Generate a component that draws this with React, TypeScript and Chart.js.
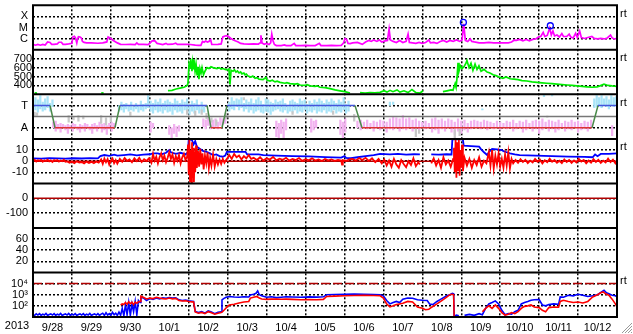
import { useEffect, useRef } from 'react';
import { Chart, registerables } from 'chart.js';

Chart.register(...registerables);

// ---------- labels ----------
const yearLabel = '2013';
const dayLabels = ['9/28', '9/29', '9/30', '10/1', '10/2', '10/3', '10/4', '10/5', '10/6', '10/7', '10/8', '10/9', '10/10', '10/11', '10/12'];
const xrayTickLabels: [number, string][] = [[1e-4, 'X'], [1e-5, 'M'], [1e-6, 'C']];
const speedTicks = [400, 500, 600, 700];
const sectorTickLabels: [number, string][] = [[1, 'T'], [-1, 'A']];
const bTicks = [-10, 0, 10];
const dstTicks = [-100, 0];
const kpTicks = [20, 40, 60];
const protonTickLabels: [number, string][] = [[1e2, '10²'], [1e3, '10³'], [1e4, '10⁴']];
const rtLabel = 'rt';

// ---------- data (x = hours since 9/28 00:00) ----------
const xrayFlux: [number, number][] = [
  [0, 3.1e-7], [1.5, 2.6e-7], [3, 3.1e-7], [4.5, 2.6e-7], [6, 3.1e-7], [7.5, 2.7e-7], [9, 5.1e-7], [10.5, 4.6e-7], [11.5, 3.1e-7], [13, 3.1e-7],
  [15, 3.4e-7], [16, 4.8e-7], [17.5, 4.8e-7], [18.5, 3.1e-7], [20, 3.1e-7], [22, 3.4e-7], [24, 3.8e-7], [24.5, 1.43e-6], [25.5, 1.65e-6], [26.2, 1.17e-6],
  [27, 4.2e-7], [27.5, 9.5e-7], [28, 1.52e-6], [29, 1.43e-6], [29.8, 1.17e-6], [30.5, 5.7e-7], [31.5, 4.6e-7], [33, 4.2e-7], [36, 4.2e-7], [40, 3.9e-7],
  [43, 4.2e-7], [45.5, 5.1e-7], [46.3, 1.43e-6], [47.5, 1.17e-6], [49, 7.7e-7], [50.5, 5.7e-7], [52, 4.2e-7], [54, 3.1e-7], [57, 3.0e-7], [60, 3.1e-7],
  [63, 3.0e-7], [64, 4.2e-7], [65, 3.1e-7], [68, 3.1e-7], [71, 3.0e-7], [73.5, 6.3e-7], [75, 6.7e-7], [76.5, 3.8e-7], [78, 3.4e-7], [80, 3.0e-7],
  [82, 3.8e-7], [83, 3.1e-7], [86, 3.2e-7], [88, 3.9e-7], [89, 3.1e-7], [92, 3.1e-7], [95, 3.1e-7], [97, 3.0e-7], [100, 2.6e-7], [102, 2.5e-7],
  [103.5, 2.5e-7], [104.5, 5.7e-7], [105.5, 4.8e-7], [106.5, 6.3e-7], [107.5, 5.1e-7], [108.5, 5.7e-7], [109.5, 8.2e-7], [110.2, 3.0e-7], [112, 3.0e-7], [114, 3.1e-7],
  [116, 3.4e-7], [117, 1.43e-6], [118.3, 1.75e-6], [119.5, 1.87e-6], [120.5, 1.58e-6], [122, 1.05e-6], [123.5, 7.7e-7], [125, 6.3e-7], [126.5, 5.1e-7], [128, 3.8e-7],
  [130, 3.4e-7], [133, 3.2e-7], [136, 3.4e-7], [139, 3.3e-7], [140, 4.2e-7], [140.5, 2.0e-6], [141.2, 4.2e-7], [142.5, 3.2e-7], [144, 3.8e-7], [145.5, 3.0e-7],
  [146.5, 4.2e-7], [147.2, 2.6e-6], [148, 6.3e-7], [148.8, 3.0e-7], [150, 2.4e-7], [153, 2.4e-7], [155, 2.8e-7], [156, 2.4e-7], [159, 2.4e-7], [161, 3.8e-7],
  [162, 2.4e-7], [165, 2.4e-7], [168, 2.5e-7], [171, 2.4e-7], [174, 2.4e-7], [176.5, 3.8e-7], [177.5, 2.4e-7], [181, 2.4e-7], [184, 2.5e-7], [187, 2.4e-7],
  [190, 2.5e-7], [191.5, 4.2e-7], [192.3, 1.0e-6], [193.3, 8.6e-7], [194.2, 3.8e-7], [195.5, 3.6e-7], [197, 4.2e-7], [200, 4.6e-7], [203, 3.1e-7], [205, 5.1e-7],
  [207, 7.0e-7], [208.5, 5.7e-7], [210, 7.7e-7], [212, 5.7e-7], [213.5, 7.7e-7], [215, 5.1e-7], [217, 6.3e-7], [218.5, 7.0e-7], [219.5, 7.4e-6], [220.3, 7.7e-7],
  [222, 5.7e-7], [224, 4.6e-7], [226, 7.0e-7], [228, 4.6e-7], [230, 5.7e-7], [231.2, 2.6e-6], [232, 4.6e-7], [234, 4.2e-7], [236, 3.8e-7], [238, 4.6e-7],
  [240, 3.8e-7], [242, 4.6e-7], [244, 7.7e-7], [245, 4.2e-7], [247, 4.6e-7], [249, 3.8e-7], [251, 5.7e-7], [253, 7.0e-7], [255, 5.1e-7], [257, 7.0e-7],
  [259, 5.7e-7], [261, 7.7e-7], [263, 5.7e-7], [264.5, 7.7e-7], [265.5, 2.18e-5], [266.5, 7.0e-7], [268, 5.7e-7], [269.5, 9.5e-7], [270.5, 5.7e-7], [272, 5.1e-7],
  [275, 4.2e-7], [278, 4.2e-7], [281, 4.6e-7], [284, 4.2e-7], [287, 4.2e-7], [290, 4.2e-7], [293, 4.2e-7], [295, 5.1e-7], [296.5, 7.3e-7], [298, 7.0e-7],
  [300, 8.6e-7], [302, 6.3e-7], [304, 8.6e-7], [306, 6.3e-7], [308, 8.6e-7], [310, 9.5e-7], [311.5, 1.43e-6], [313, 1.58e-6], [314.5, 3.7e-6], [315.5, 1.58e-6],
  [317, 1.95e-6], [318.5, 9.0e-6], [319.5, 2.15e-6], [320.5, 4.9e-6], [321.5, 1.75e-6], [323, 2.15e-6], [324.5, 1.43e-6], [326, 2.9e-6], [327, 1.58e-6], [329, 1.58e-6],
  [330.5, 2.6e-6], [331.5, 1.43e-6], [333, 1.17e-6], [334.5, 3.05e-6], [335.5, 1.29e-6], [337, 4.9e-6], [338, 1.29e-6], [340, 1.05e-6], [342, 1.29e-6], [344.5, 1.58e-6],
  [346, 1.05e-6], [348, 9.5e-7], [350, 1.05e-6], [352, 9.5e-7], [354, 1.17e-6], [356, 2.15e-6], [357, 1.17e-6], [358.5, 9.5e-7], [360, 1.05e-6],
];
const flareMarks: [number, number][] = [[265.3, 2.9e-5], [318.9, 1.45e-5]];

const windSpeed: [number, number | null][] = [
  [1, 316], [2.5, 314], [3, null], [42, 315], [43.5, 316], [44, null],
  [83.2, 341], [85.7, 345], [88.2, 360], [90.6, 370], [93.1, 380], [94.9, 397], [95.5, 420], [96.2, 640], [96.8, 600], [97.2, 700],
  [97.6, 620], [98, 560], [98.4, 660], [98.9, 590], [99.2, 690], [99.9, 560], [100.5, 640], [101.1, 520], [101.7, 610], [102.3, 470],
  [102.9, 590], [103.6, 540], [104.2, 600], [105.1, 520], [106, 560], [107.3, 600], [108.5, 590], [109.7, 610], [111, 600], [112.2, 595],
  [113.4, 590], [114.7, 600], [115.9, 585], [117.1, 590], [118.4, 580], [119.6, 575], [120.8, 585], [121.4, 410], [122.1, 570], [123.3, 560],
  [124.2, 575], [125.1, 550], [126, 562], [127, 540], [128, 552], [128.8, 530], [130, 540], [130.7, 520], [131.5, 528], [132.5, 505], [134.4, 495],
  [135.5, 505], [136.9, 480], [138, 488], [139.3, 470], [141.8, 465], [143.6, 490], [144.2, 460], [146.1, 450], [147.5, 458], [149.2, 440],
  [150.5, 448], [152.3, 435], [155.3, 425], [156.5, 432], [158.4, 420], [161.5, 415], [163, 420], [164.6, 405], [167.7, 400], [169, 408],
  [170.8, 395], [173.8, 390], [175, 396], [176.9, 380], [180, 375], [183.1, 365], [186.2, 350], [189.3, 340], [192.3, 330], [195.4, 315], [196, null],
  [201.6, 320], [204.7, 315], [207.7, 320], [210.8, 318], [213.9, 322], [216.4, 340], [218.2, 325], [220.1, 345], [221.9, 330], [224.4, 350],
  [226.2, 325], [228.7, 340], [231.2, 320], [233.6, 355], [236.1, 320], [238.6, 315], [240.4, 340], [241, null],
  [252.7, 330], [255.2, 340], [257.7, 350], [258.9, 345], [260.2, 420], [260.8, 380], [261.4, 490], [262, 655], [262.6, 560], [263.5, 620],
  [264.5, 590], [265.7, 610], [266.9, 650], [267.5, 680], [268.8, 600], [270, 650], [271.2, 570], [272.5, 640], [273.7, 580], [274.9, 620],
  [276.2, 560], [278, 580], [279.9, 550], [281.7, 540], [283.6, 520], [285.4, 510], [287.3, 495], [289.7, 480], [291.6, 495], [294, 475],
  [296.5, 470], [299, 465], [301.4, 455], [304.5, 450], [307.6, 440], [310.7, 435], [313.8, 430], [316.8, 425], [319.9, 420], [323, 415],
  [326.1, 410], [329.2, 405], [332.3, 400], [335.3, 395], [338.4, 390], [341.5, 385], [344.6, 380], [347.7, 385], [349.5, 395], [352, 415],
  [354.5, 400], [356.9, 395], [360, 390],
];

// IMF sector: +1 = T (toward), -1 = A (away)
const sectorLevel: [number, number][] = [
  [0, 1], [10.5, 1], [13.6, -1], [50.5, -1], [53.6, 1], [107.3, 1], [109.7, -1], [116.5, -1], [119.6, 1],
  [198.5, 1], [202.8, -1], [344.6, -1], [348.3, 1], [360, 1],
];
const sectorMid: [number, number][] = [[0, 0], [360, 0]];

// IMF direction spread per time bin [hour, low, high]
const imfToward: [number, number, number][] = [
  [0, 0.5, 1.4], [1.5, 0.6, 1.7], [3, 0.4, 1.5], [4.5, 0.7, 1.9], [6, 0.5, 1.3], [7.5, 0.6, 1.6], [9, 0.8, 1.8], [10.5, 0.5, 1.2], [12, 0.9, 1.5],
  [53, 0.5, 1.0], [54.5, 0.6, 1.3], [56, 0.4, 1.1], [57.5, 0.7, 1.2], [59, 0.5, 1.0], [60.5, 0.6, 1.3], [62, 0.5, 0.9], [63.5, 0.7, 1.2], [65, 0.4, 1.0],
  [66.5, 0.6, 1.4], [68, 0.5, 1.1], [69.5, 0.7, 1.2], [71, 0.8, 1.9], [72.5, 0.5, 1.4], [74, 0.3, 1.2], [75.5, 0.6, 1.5], [77, 0.4, 1.3], [78.5, 0.5, 1.6],
  [80, 0.3, 1.2], [81.5, 0.6, 1.4], [83, 0.4, 1.5], [84.5, 0.5, 1.3], [86, 0.2, 1.2], [87.5, 0.6, 1.6], [89, 0.4, 1.4], [90.5, 0.5, 1.2], [92, 0.3, 1.5],
  [93.5, 0.6, 1.3], [95, 0.4, 1.6], [96.5, 0.2, 1.1], [98, 0.5, 1.4], [99.5, 0.3, 1.2], [101, 0.6, 1.5], [102.5, 0.3, 1.0], [104, 0.5, 1.3], [105.5, 0.4, 0.9],
  [121, 0.5, 1.3], [122.5, 0.7, 1.7], [124, 0.6, 1.4], [125.5, 0.9, 1.6], [127, 0.6, 1.5], [128.5, 0.8, 1.7], [130, 0.5, 1.2], [131.5, 0.7, 1.5], [133, 0.4, 1.3],
  [134.5, 0.6, 1.6], [136, 0.3, 1.2], [137.5, 0.5, 1.5], [139, 0.6, 1.7], [140.5, 0.4, 1.4], [142, 0.3, 1.1], [143.5, 0.5, 1.6], [145, 0.4, 1.5], [146.5, 0.2, 1.3],
  [148, 0.5, 1.2], [149.5, 0.6, 1.5], [151, 0.7, 1.3], [152.5, 0.5, 1.4], [154, 0.4, 1.6], [155.5, 0.6, 1.2], [157, 0.3, 1.0], [158.5, 0.5, 1.4], [160, 0.4, 1.5],
  [161.5, 0.6, 1.3], [163, 0.3, 1.2], [164.5, 0.5, 1.6], [166, 0.4, 1.4], [167.5, 0.6, 1.5], [169, 0.3, 1.1], [170.5, 0.5, 1.4], [172, 0.4, 1.2], [173.5, 0.6, 1.5],
  [175, 0.3, 1.3], [176.5, 0.5, 1.6], [178, 0.4, 1.4], [179.5, 0.6, 1.2], [181, 0.3, 1.5], [182.5, 0.5, 1.3], [184, 0.4, 1.6], [185.5, 0.6, 1.4], [187, 0.3, 1.2],
  [188.5, 0.5, 1.5], [190, 0.4, 1.3], [191.5, 0.6, 1.7], [193, 0.3, 1.1], [194.5, 0.5, 1.4],
  [220, 1.0, 1.3], [222, 1.1, 1.3], [277, 0.6, 0.7], [315, 1.8, 2.0], [320, 1.85, 2.0],
  [346, 0.8, 1.6], [347.5, 0.9, 1.9], [349, 1.0, 1.7], [350.5, 0.8, 1.9], [352, 1.0, 1.6], [353.5, 0.9, 1.8], [355, 0.7, 1.5], [356.5, 1.0, 1.9], [358, 0.9, 1.7], [359.5, 1.1, 1.8],
];
const imfAway: [number, number, number][] = [
  [12.5, -1.0, -0.5], [14, -1.3, -0.4], [15.5, -1.1, -0.7], [17, -1.4, -0.6], [18.5, -1.0, -0.7], [20, -1.2, -0.8], [21.5, -1.5, -0.7], [23, -1.1, -0.8],
  [24.5, -1.3, -0.6], [26, -1.0, -0.7], [27.5, -1.2, -0.9], [29, -1.4, -0.7], [30.5, -1.1, -0.8], [32, -1.3, -0.6], [33.5, -1.0, -0.7], [35, -1.2, -0.9],
  [36.5, -1.5, -0.7], [38, -1.1, -0.6], [39.5, -1.3, -0.8], [41, -1.0, -0.5], [42.5, -1.4, -0.7], [44, -1.2, -0.6], [45.5, -1.6, -0.8], [47, -1.1, -0.6],
  [48.5, -1.3, -0.5], [50, -1.0, -0.6],
  [72.5, -1.4, -0.5], [74, -1.0, -0.6], [84, -1.6, -0.8], [85.5, -2.0, -1.0], [87, -1.5, -0.7], [88.5, -1.8, -0.9], [90, -1.3, -0.8],
  [105, -0.9, -0.2], [106.5, -1.1, -0.3], [108, -0.8, 0], [109.5, -1.1, -0.4], [111, -1.0, -0.3], [112.5, -0.9, -0.2], [114, -1.1, -0.5], [115.5, -0.8, -0.1],
  [117, -0.7, -0.2], [118.5, -0.6, 0],
  [150, -1.8, -0.4], [151.5, -2, -0.6], [153, -1.5, -0.3], [154.5, -1.9, -0.5], [156, -1.2, -0.2],
  [171.5, -1.4, -0.2], [173, -1.2, -0.4], [174.5, -1.0, -0.3], [189.5, -1.6, -0.3], [191, -2, -0.5], [192.5, -1.4, -0.2],
  [200, -1.0, -0.4], [202, -1.2, -0.3], [204, -0.9, -0.5], [206, -1.1, -0.3], [208, -1.0, -0.6], [210, -1.3, -0.4], [212, -0.9, -0.5], [214, -1.2, -0.3],
  [216, -1.0, -0.4], [218, -1.4, -0.5], [220, -1.1, -0.2], [222, -1.2, 0], [224, -1.0, -0.1], [226, -1.3, -0.2], [228, -1.1, 0.1], [230, -1.2, -0.2],
  [232, -1.0, -0.1], [234, -1.3, -0.3], [236, -1.1, -0.2], [238, -1.2, -0.4], [240, -0.9, -0.5], [242, -1.1, -0.4], [244, -1.0, -0.6], [246, -1.4, -0.2],
  [248, -1.2, -0.1], [250, -1.5, -0.3], [252, -1.1, -0.2], [254, -1.3, -0.4], [256, -1.0, -0.2], [258, -1.4, -0.3], [260, -1.6, -0.5], [262, -1.3, -0.2],
  [264, -1.5, -0.4], [266, -1.2, -0.3], [268, -1.4, -0.6], [270, -1.1, -0.4], [272, -1.0, -0.3], [274, -0.9, -0.4], [276, -1.1, -0.5], [278, -1.0, -0.3],
  [280, -1.2, -0.4], [282, -0.9, -0.5], [284, -1.1, -0.6], [286, -1.0, -0.4], [288, -1.2, -0.5], [290, -0.9, -0.6], [292, -1.1, -0.4], [294, -1.0, -0.5],
  [296, -1.3, -0.3], [298, -1.1, -0.6], [300, -1.0, -0.4], [302, -1.4, -0.5], [304, -1.2, -0.3], [306, -1.0, -0.6], [308, -1.3, -0.4], [310, -1.1, -0.3],
  [312, -1.5, -0.4], [314, -1.2, -0.2], [316, -1.0, -0.5], [318, -1.3, -0.3], [320, -1.1, -0.4], [322, -1.4, -0.5], [324, -1.2, -0.3], [326, -1.0, -0.6],
  [328, -1.3, -0.4], [330, -1.1, -0.5], [332, -1.2, -0.3], [334, -1.0, -0.5], [336, -1.4, -0.4], [338, -1.2, -0.6], [340, -1.1, -0.4], [342, -1.3, -0.5],
  [344, -1.0, -0.3], [357, -1.7, -0.8],
];
const imfMixed: [number, number, number][] = [
  [1, 0.0, 0.4], [2.5, 0.1, 0.35], [22, -0.5, 0.1], [25, -0.3, 0.0], [28, -0.4, 0.1], [31, -0.2, 0.05], [42, -0.6, 0.1], [45, -0.75, -0.1], [48, -0.5, 0.1],
  [60, 0.1, 0.4], [95, 0.2, 0.6], [100, 0.1, 0.5], [104, 0.2, 0.6], [107, -0.2, 0.3], [110, -0.5, -0.1], [113, -0.8, -0.3], [119, -0.2, 0.3], [130, 1.5, 1.7],
  [160, 0.2, 0.45], [185, 0.2, 0.5], [198, -0.4, 0.2], [236, -1.8, -1.1], [238, -1.5, -1.2], [260, -2.0, -1.2], [263, -1.7, -1.1], [317, -0.05, 0.05],
];

const bzValues: [number, number | null][] = [
  [0, 0.5], [1, 1.2], [2, -0.3], [3, 0.8], [4, 0.2], [5, 1.1], [6, -0.5], [7, 0.7], [8, 0.1], [9, 1.3], [10, -0.2], [11, 0.6], [12, -0.8], [13, 0.9], [14, 0.3],
  [15, 1.0], [16, -0.4], [17, 0.5], [18, 0.0], [19, 1.2], [20, -0.6],
  [21, -0.3], [22.5, -1.5], [24, -0.5], [25.5, -1.8], [27, -0.2], [28.5, -1.2], [30, -0.8], [31.5, -2.0], [33, -0.4], [34.5, -1.6], [36, -0.6], [37.5, -1.9],
  [39, -0.3], [40.5, -1.4],
  [42, 1.5], [43, -2.5], [44, 2.3], [45, -1.0], [46, 1.8], [47, -3.0], [48, 0.5], [49, 2.5], [50, -1.8], [51, 1.0], [52, -2.2],
  [53.5, 2.0], [55, -0.5], [56.5, 2.8], [58, 0.3], [59.5, 1.5], [61, -1.0], [62.5, 2.5], [64, 0.0], [65.5, 3.0], [67, -0.8], [68.5, 1.8], [70, 0.2], [71.5, 2.6],
  [73, -1.5], [74, 6.5], [75, 0.5], [76, 4.0], [77, -2.0], [78, 3.5], [79, 7.0], [80, 1.0], [81, 5.0], [82, -1.0], [83, 3.0], [84, 8.0], [85, 2.0], [86, 6.0],
  [87, -1.5], [88, 4.5], [89, 0.5], [90, 5.5], [91, -2.0], [92, 3.5], [93, 6.5], [94, 1.0], [95, 4.0],
  [95.6, 15], [96, -12], [96.4, 19], [96.8, -18], [97.2, 10], [97.6, -20], [98, 17], [98.4, -15], [98.8, 12], [99.2, -19], [99.6, 8], [100, -10], [100.5, 14], [101, -6],
  [101.7, 9], [102.4, -5], [103.1, 11], [103.8, -3], [104.5, 7], [105.2, -7.5], [106, 5], [106.8, -2], [107.6, 8], [108.4, -6], [109.2, 3], [110, -4], [111, 6],
  [112, -5], [113, 2], [114, -3], [115, 1.5], [116, -2.5], [117, 2], [118, -1.5], [119, 1],
  [120, 3], [121, 5.5], [122.5, 2], [124, 6.5], [125.5, 3.5], [127, 5], [128.5, 1.5], [130, 4.5], [131.5, 2.5], [133, 5.5], [134.5, 2],
  [136, 3], [138, 1], [140, 3.5], [142, 0.5], [144, 2.5], [146, 1.5], [148, 3.8], [150, 0.8], [152, 2.2], [154, 1.2], [156, 3], [158, 0.5], [160, 2], [162, 1],
  [164, 2.8], [166, 0.3], [168, 1.8], [170, 0.8], [172, 2.5], [174, 0.5], [176, 1.5], [178, 0.2], [180, 2], [182, 0.8], [184, 1.5], [186, 0.3], [188, 1.2],
  [190, 0.5], [190.5, -3], [191, 1], [193, 0.3], [195, 1.5],
  [197, 2], [199, 0.5], [201, 2.8], [203, 1], [205, 3], [207, 0.2], [209, 2.5], [211, -1], [213, 2],
  [215, -2], [216.5, 1.5], [218, -4], [219.5, 0.5], [221, -5], [222.5, 2], [224, -3], [225.5, -6], [227, 1], [228.5, -2.5], [230, -5.5], [231.5, 0], [233, -3.5],
  [234.5, 2.5], [236, -4.5], [237.5, -1], [238.5, -3], [239.5, null],
  [245.5, -2], [247, 2.5], [248.5, -4], [250, 1], [251.5, -6], [253, 3.5], [254.5, -3], [256, 0.5], [257.5, -5], [259, 2],
  [259.5, 12], [260, -10], [260.5, 19], [261, -15], [261.5, 17], [262, -8], [262.5, 19], [263, -13], [263.5, 10], [264, -6], [264.5, 15], [265, -9],
  [266, 3], [267.5, -4], [269, 2], [270.5, -6], [272, 1], [273.5, -3.5], [275, 3.5], [276.5, -5], [278, 0.5], [279.5, -2],
  [281, 8], [282, -4], [283, 10], [284, -6.5], [285, 5], [286, -3], [287, 7], [288, -5], [289, 2], [290, -6], [291, 6], [292, -4], [293, 8], [294, -6.5], [295, 2], [296, -2],
  [297.5, 1], [299, -1.5], [300.5, 1.8], [302, -0.8], [303.5, 1.2], [305, -1.8], [306.5, 0.5], [308, -1.2], [309.5, 2], [311, -0.5], [312.5, 1.3], [314, -2],
  [315.5, 0.8], [317, -1], [318.5, 2.2], [320, -0.6], [321.5, 1], [323, -1.5], [324.5, 0.3], [326, -1.8], [327.5, 1.5], [329, -0.8], [330.5, 1.1], [332, -1.6],
  [333.5, 0.6], [335, -1.2], [336.5, 2], [338, -0.4], [339.5, 1], [341, -2], [342.5, 0.5], [344, -1.3], [345.5, 1.8], [347, -0.7], [348.5, 1.2], [350, -1.6],
  [351.5, 0.4], [353, -1.1], [354.5, 2.3], [356, -0.9], [357.5, 1.3], [359, -1.9], [360, 0.5],
];
const btValues: [number, number | null][] = [
  [0, 2.5], [5, 2.3], [10, 2.8], [15, 2.5], [20, 2.2], [25, 2.6], [30, 2.4], [35, 2.8], [40, 2.5], [41.5, 4.5], [44, 5.5], [47, 4.8], [50, 5.8], [52, 5],
  [56, 5.5], [60, 6], [64, 5.2], [68, 5.8], [72, 6.2], [74, 7], [77, 7], [79, 6], [82, 7.5], [84, 10], [85, 8], [88, 6.5], [91, 7.5], [94, 6], [95.5, 8],
  [96, 19.5], [98, 19], [99, 15], [100, 18], [101, 13], [103, 11], [105, 9], [107, 8.4], [109, 7], [111, 5.5], [113, 6], [115, 4.5], [117, 4], [118.5, 5],
  [119.5, 8.4], [131, 8.4], [132, 6], [139, 6], [142, 5.5], [150, 5], [160, 4.5], [170, 4.2], [180, 3.6], [190, 3.2], [192, 4.5], [193, 3], [196, 2.6],
  [200, 3.5], [205, 4.5], [210, 5.5], [214, 6.5], [220, 6], [225, 6.5], [230, 5.8], [235, 6.2], [238.5, 6], [239, null],
  [245.5, 6], [250, 5.8], [255, 6.2], [258, 6], [258.5, 19.5], [265, 19.5], [265.5, 14], [270, 13.5], [275, 13], [276, 11], [278, 8], [280, 5.5], [281, 8],
  [283, 11], [286, 10.5], [289, 10], [290, 9], [292, 8], [294, 7], [297, 6], [300, 5.5], [310, 5], [320, 4.5], [330, 4], [340, 3.8], [345, 3.5], [346.5, 6],
  [348, 4.5], [350, 6.5], [355, 6.5], [360, 7],
];
const bZero: [number, number][] = [[0, 0], [360, 0]];
const dstZero: [number, number][] = [[0, 0], [360, 0]];

const protonHigh: [number, number | null][] = [
  [0, 16], [1, 14], [2, 19], [3, 15], [4, 20], [5, 14], [6, 18], [7, 15], [8, 21], [9, 14], [10, 17], [11, 19], [12, 15], [13, 20], [14, 14], [15, 18],
  [16, 15], [17, 21], [18, 14], [19, 17], [20, 19], [21, 15], [22, 21], [23, 14], [24, 18], [25, 15], [26, 20], [27, 14], [28, 17], [29, 19], [30, 15],
  [31, 20], [32, 14], [33, 18], [34, 15], [35, 21], [36, 14], [37, 17], [38, 19], [39, 15], [40, 20], [41, 14], [42, 18], [43, 22], [44, 14], [45, 24],
  [46, 15], [47, 20], [48, 14], [49, 26], [50, 16], [51, 22], [52, 14], [53, 28], [54, 14], [55, 60], [56, 13], [57, 120], [58, 16], [59, 200], [60, 14],
  [61, 150], [62, 30], [63, 250], [64, 15], [65, 300], [66, 200], [66.5, 600], [68, 520], [70, 300], [72, 450], [74, 380], [76, 500], [78, 420], [80, 520],
  [82, 480], [84, 560], [86, 500], [88, 540], [90, 350], [92, 300], [94, 330], [96, 280], [98, 260], [99, 250], [100, 32], [102, 25], [104, 30], [106, 22],
  [108, 35], [110, 28], [112, 20], [114, 26], [116, 30], [116.5, 350], [117.5, 450], [119, 600], [121, 690], [124, 630], [127, 600], [130, 650], [133, 620],
  [134, 950], [136, 1100], [137.5, 1350], [138.5, 2200], [139.5, 1000], [141, 800], [144, 600], [147, 650], [150, 550], [153, 600], [156, 650], [160, 620],
  [165, 600], [170, 640], [175, 610], [179, 650], [181, 1000], [186, 1050], [192, 1100], [198, 1150], [204, 1100], [210, 1050], [214, 1000], [216, 800],
  [218, 300], [220, 150], [222, 200], [224, 250], [226, 200], [228, 400], [231, 500], [234, 480], [237, 350], [240, 320], [243, 300], [244.5, 150],
  [246.5, 130], [249, 250], [252, 450], [255, 800], [257, 1000], [258.5, 1350], [259.3, 1200], [259.6, 12], [261, 15], [262.5, 13], [264, null],
  [266, 14], [269, 17], [272, 14], [275, 20], [277, 16], [279, 60], [281, 150], [283, 200], [285, 280], [287, 150], [289, 40], [291, 16], [293, 20],
  [295, 18], [297, 30], [299, 40], [301, 150], [303, 200], [305, 250], [307, 320], [309, 350], [312, 370], [314, 120], [316, 100], [318, 130], [321, 150],
  [324, 140], [325, 630], [327, 600], [330, 900], [333, 800], [336, 1100], [339, 900], [342, 700], [345, 800], [348, 1000], [350.5, 1800], [352, 2500],
  [353.5, 1500], [355, 1260], [357, 900], [359, 800], [360, 630],
];
const protonLow: [number, number | null][] = [
  [54, 120], [55, 150], [56, 130], [57, 200], [58, 140], [59, 230], [60, 160], [61, 210], [62, 130], [63, 220], [64, 170], [65, 230], [66, 250], [66.5, 740],
  [68, 600], [70, 420], [72, 500], [74, 450], [76, 580], [78, 500], [80, 450], [82, 420], [84, 500], [86, 430], [88, 470], [90, 300], [92, 270], [94, 290],
  [96, 250], [98, 230], [99, 220], [100, 28], [102, 22], [104, 26], [106, 20], [108, 30], [110, 24], [112, 18], [114, 22], [116, 25], [117, 32], [118, 45],
  [119, 65], [120, 90], [121, 120], [124, 140], [127, 180], [130, 220], [133, 250], [134, 500], [136, 600], [138, 700], [139.5, 500], [141, 420], [144, 380],
  [147, 400], [150, 420], [153, 390], [156, 400], [160, 380], [165, 360], [170, 370], [175, 350], [179, 380], [181, 700], [186, 750], [192, 800], [198, 850],
  [204, 880], [210, 850], [214, 800], [216, 500], [218, 150], [220, 80], [222, 100], [224, 130], [226, 150], [228, 175], [231, 250], [234, 220], [237, 80],
  [240, 60], [242, 45], [244, 50], [246, 80], [249, 150], [252, 300], [255, 600], [257, 1000], [258.5, 1100], [259.3, 1000], [259.6, 12], [260, null],
  [277, 30], [279, 60], [281, 100], [283, 60], [285, 120], [287, 60], [289, 25], [291, 15], [293, 18], [295, 25], [297, 20], [299, 30], [301, 60], [303, 90],
  [305, 100], [307, 120], [309, 80], [312, 70], [314, 40], [316, 30], [318, 70], [321, 80], [324, 75], [325, 250], [327, 320], [330, 250], [333, 200],
  [336, 220], [339, 180], [342, 250], [345, 630], [348, 1000], [350, 1500], [351.5, 1800], [353, 1200], [355, 900], [357, 400], [359, 150], [360, 80],
];
const protonAlert: [number, number][] = [[0, 1e4], [360, 1e4]];

// ---------- helpers ----------
const FONT = 'Liberation Sans';
const toXY = (arr: [number, number | null][]) => arr.map(([x, y]) => ({ x, y }));
const toBars = (arr: [number, number, number][]) => arr.map(([x, lo, hi]) => ({ x, y: [lo, hi] }));
const panelIds = ['yXray', 'ySpeed', 'yImf', 'yB', 'yDst', 'yKp', 'yProton'];
const rtPanels = ['yXray', 'ySpeed', 'yImf', 'yB', 'yProton'];
const hourTicks: number[] = [];
for (let h = 0; h <= 360; h += 12) hourTicks.push(h);

function panelAxis(id: string, values: number[], extra: any = {}, labelOf?: (v: number) => string, padding = 5) {
  return {
    stack: 'panels',
    stackWeight: 1,
    weight: 10 - panelIds.indexOf(id),
    position: 'left',
    afterBuildTicks: (s: any) => { s.ticks = values.map((v) => ({ value: v })); },
    afterFit: (s: any) => { s.width = 33; s.paddingTop = 0; s.paddingBottom = 0; },
    grid: { color: '#000', lineWidth: 1.5, drawTicks: false },
    border: { display: false, dash: [2, 2] },
    ticks: {
      autoSkip: false,
      padding,
      color: '#000',
      font: { family: FONT, size: 11 },
      callback: (v: any) => (labelOf ? labelOf(Number(v)) : String(v)),
    },
    ...extra,
  };
}

const overlayPlugin = {
  id: 'overlay',
  afterDraw(chart: any) {
    const { ctx, chartArea: a } = chart;
    ctx.save();
    ctx.strokeStyle = '#000';
    ctx.lineWidth = 2;
    ctx.beginPath();
    ctx.moveTo(a.left, a.top - 1);
    ctx.lineTo(a.left, a.bottom + 1);
    ctx.moveTo(a.right, a.top - 1);
    ctx.lineTo(a.right, a.bottom + 1);
    panelIds.forEach((id) => {
      const s = chart.scales[id];
      ctx.moveTo(a.left - 1, s.top);
      ctx.lineTo(a.right + 1, s.top);
    });
    ctx.moveTo(a.left - 1, a.bottom);
    ctx.lineTo(a.right + 1, a.bottom);
    ctx.stroke();

    ctx.fillStyle = '#000';
    ctx.font = `11px "${FONT}"`;
    ctx.textBaseline = 'middle';
    ctx.textAlign = 'center';
    ctx.fillText(yearLabel, 17, chart.scales.x.top + 9);
    ctx.textAlign = 'left';
    rtPanels.forEach((id) => {
      const s = chart.scales[id];
      ctx.fillText(rtLabel, a.right + 3, s.top + 8.5);
    });

    // window resize grip
    ctx.strokeStyle = '#999';
    ctx.lineWidth = 1;
    ctx.beginPath();
    for (let k = 0; k < 4; k++) {
      ctx.moveTo(chart.width - 1, chart.height - 11 + k * 3);
      ctx.lineTo(chart.width - 11 + k * 3, chart.height - 1);
    }
    ctx.stroke();
    ctx.restore();
  },
};

export default function App() {
  const ref = useRef<HTMLCanvasElement | null>(null);

  useEffect(() => {
    if (!ref.current) return;
    const line = (id: string, data: any[], color: string, width = 1.5, extra: any = {}) => ({
      type: 'line',
      data,
      yAxisID: id,
      borderColor: color,
      borderWidth: width,
      pointRadius: 0,
      fill: false,
      spanGaps: false,
      tension: 0,
      order: 1,
      ...extra,
    });
    const bars = (data: any[], color: string) => ({
      type: 'bar',
      data,
      yAxisID: 'yImf',
      backgroundColor: color,
      borderWidth: 0,
      barThickness: 1.6,
      grouped: false,
      order: 5,
    });

    const chart = new Chart(ref.current, {
      type: 'line',
      data: {
        datasets: [
          line('yXray', toXY(xrayFlux), '#ff00ff', 1.7),
          {
            type: 'scatter',
            data: toXY(flareMarks),
            yAxisID: 'yXray',
            pointStyle: 'circle',
            pointRadius: 3,
            pointBorderColor: '#0000ff',
            pointBackgroundColor: 'rgba(0,0,0,0)',
            pointBorderWidth: 1.3,
            showLine: false,
            order: 0,
          },
          line('ySpeed', toXY(windSpeed), '#00ee00', 1.7),
          bars(toBars(imfMixed), '#c8c8c8'),
          bars(toBars(imfToward), '#a8e4f8'),
          bars(toBars(imfAway), '#f2b2f0'),
          line('yImf', toXY(sectorMid), '#777777', 1.5, { order: 2 }),
          line('yImf', toXY(sectorLevel), '#4455dd', 1.5, {
            order: 0,
            segment: {
              borderColor: (c: any) =>
                c.p0.parsed.y !== c.p1.parsed.y ? '#4a8a4a' : c.p0.parsed.y > 0 ? '#4455dd' : '#dd3333',
            },
          }),
          line('yB', toXY(bZero), '#b00000', 1.5, { order: 3 }),
          line('yB', toXY(btValues), '#0000ff', 1.8, { order: 2 }),
          line('yB', toXY(bzValues), '#ff0000', 1.8, { order: 1 }),
          line('yDst', toXY(dstZero), '#b00000', 1.5),
          line('yProton', toXY(protonAlert), '#b00000', 1.5, { borderDash: [9, 3], order: 3 }),
          line('yProton', toXY(protonHigh), '#0000ff', 1.6, { order: 2 }),
          line('yProton', toXY(protonLow), '#ff0000', 1.6, { order: 1 }),
        ] as any,
      },
      options: {
        animation: false,
        responsive: false,
        events: [],
        layout: { padding: { top: 2, right: 16, bottom: 0, left: 0 } },
        plugins: { legend: { display: false }, tooltip: { enabled: false } },
        scales: {
          x: {
            type: 'linear',
            min: 0,
            max: 360,
            offset: false,
            afterBuildTicks: (s: any) => { s.ticks = hourTicks.map((v) => ({ value: v })); },
            afterFit: (s: any) => { s.height = 17; s.paddingLeft = 0; s.paddingRight = 0; },
            grid: {
              offset: false,
              drawTicks: false,
              lineWidth: 1.5,
              color: (c: any) => (c.tick && c.tick.value % 24 === 0 ? '#000' : 'rgba(0,0,0,0)'),
            },
            border: { display: false, dash: [2, 2] },
            ticks: {
              autoSkip: false,
              maxRotation: 0,
              padding: 4,
              color: '#000',
              font: { family: FONT, size: 11 },
              callback: (v: any) => {
                const n = Number(v);
                return n % 24 === 12 ? dayLabels[(n - 12) / 24] : '';
              },
            },
          },
          yXray: panelAxis('yXray', xrayTickLabels.map((t) => t[0]), { type: 'logarithmic', min: 1e-7, max: 1e-3 },
            (v) => (xrayTickLabels.find((t) => Math.abs(t[0] - v) / t[0] < 1e-6) || [0, ''])[1]),
          ySpeed: panelAxis('ySpeed', speedTicks, { type: 'linear', min: 300, max: 800 }, undefined, 1),
          yImf: panelAxis('yImf', sectorTickLabels.map((t) => t[0]), { type: 'linear', min: -2, max: 2 },
            (v) => (sectorTickLabels.find((t) => t[0] === v) || [0, ''])[1]),
          yB: panelAxis('yB', bTicks, { type: 'linear', min: -20, max: 20 }),
          yDst: panelAxis('yDst', dstTicks, { type: 'linear', min: -200, max: 100 }),
          yKp: panelAxis('yKp', kpTicks, { type: 'linear', min: 0, max: 80 }),
          yProton: panelAxis('yProton', protonTickLabels.map((t) => t[0]), { type: 'logarithmic', min: 10, max: 1e5 },
            (v) => (protonTickLabels.find((t) => Math.abs(t[0] - v) / t[0] < 1e-6) || [0, ''])[1]),
        } as any,
      },
      plugins: [overlayPlugin],
    } as any);
    return () => chart.destroy();
  }, []);

  return (
    <div style={{ position: 'absolute', left: 0, top: 0, width: 633, height: 334, background: '#fff' }}>
      <canvas ref={ref} width={633} height={334} style={{ display: 'block' }} />
    </div>
  );
}
